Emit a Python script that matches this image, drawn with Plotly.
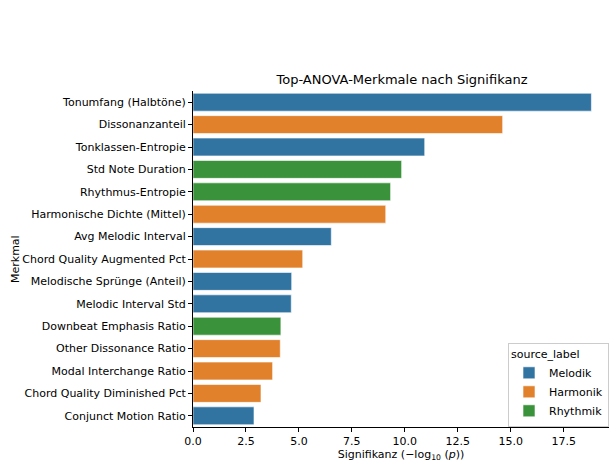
import plotly.graph_objects as go

# Features ordered by significance (top to bottom)
features = [
    "Tonumfang (Halbtöne)",
    "Dissonanzanteil",
    "Tonklassen-Entropie",
    "Std Note Duration",
    "Rhythmus-Entropie",
    "Harmonische Dichte (Mittel)",
    "Avg Melodic Interval",
    "Chord Quality Augmented Pct",
    "Melodische Sprünge (Anteil)",
    "Melodic Interval Std",
    "Downbeat Emphasis Ratio",
    "Other Dissonance Ratio",
    "Modal Interchange Ratio",
    "Chord Quality Diminished Pct",
    "Conjunct Motion Ratio",
]
significance = [18.81, 14.62, 10.94, 9.85, 9.33, 9.10, 6.53, 5.18,
                4.66, 4.64, 4.15, 4.12, 3.76, 3.21, 2.88]
source_label = ["Melodik", "Harmonik", "Melodik", "Rhythmik", "Rhythmik",
                "Harmonik", "Melodik", "Harmonik", "Melodik", "Melodik",
                "Rhythmik", "Harmonik", "Harmonik", "Harmonik", "Melodik"]

groups = ["Melodik", "Harmonik", "Rhythmik"]
colors = {"Melodik": "#3274a1", "Harmonik": "#e1812c", "Rhythmik": "#3a923a"}

fig = go.Figure()
for g in groups:
    ys = [f for f, s in zip(features, source_label) if s == g]
    xs = [v for v, s in zip(significance, source_label) if s == g]
    fig.add_trace(go.Bar(
        x=xs, y=ys, orientation="h", name=g, width=0.8,
        marker=dict(color=colors[g], line=dict(color="rgba(255,255,255,0.6)", width=1)),
    ))

font = "DejaVu Sans, sans-serif"
fig.update_layout(
    width=609, height=462,
    margin=dict(l=193, r=0, t=91, b=35, autoexpand=False),
    paper_bgcolor="white", plot_bgcolor="white",
    barmode="relative",
    font=dict(family=font, size=11, color="black"),
    title=dict(text="Top-ANOVA-Merkmale nach Signifikanz", x=(402 / 609), xanchor="center",
               y=1 - 79 / 462, yanchor="middle", font=dict(size=13, color="black")),
    xaxis=dict(
        range=[0, 19.64], tickvals=[0, 2.5, 5, 7.5, 10, 12.5, 15, 17.5],
        ticktext=["0.0", "2.5", "5.0", "7.5", "10.0", "12.5", "15.0", "17.5"],
        ticks="outside", ticklen=4, tickcolor="black", showline=True,
        linecolor="black", linewidth=1, showgrid=False, zeroline=False,
        automargin=False,
        title=dict(text="Signifikanz (−log<sub>10</sub> (<i>p</i>))", standoff=7,
                   font=dict(size=11)),
        tickfont=dict(size=11, color="black"),
    ),
    yaxis=dict(
        categoryorder="array", categoryarray=features, range=[14.5, -0.5],
        ticks="outside", ticklen=4, tickcolor="black", showline=True,
        linecolor="black", linewidth=1, showgrid=False, zeroline=False,
        automargin=False,
        tickfont=dict(size=11, color="black"),
    ),
    legend=dict(
        title=dict(text="source_label", side="top", font=dict(size=11)),
        x=1.0, xanchor="right", y=(427 - 343) / 336, yanchor="top",
        bgcolor="rgba(255,255,255,0.8)", bordercolor="#cccccc", borderwidth=1,
        font=dict(size=11, color="black"), itemwidth=30,
    ),
)

# y-axis title
fig.add_annotation(
    text="Merkmal", textangle=-90, xref="paper", yref="paper",
    x=(15 - 193) / 416, y=0.5, xanchor="center", yanchor="middle",
    showarrow=False, font=dict(size=11, color="black"),
)

fig.write_html("out.html")
